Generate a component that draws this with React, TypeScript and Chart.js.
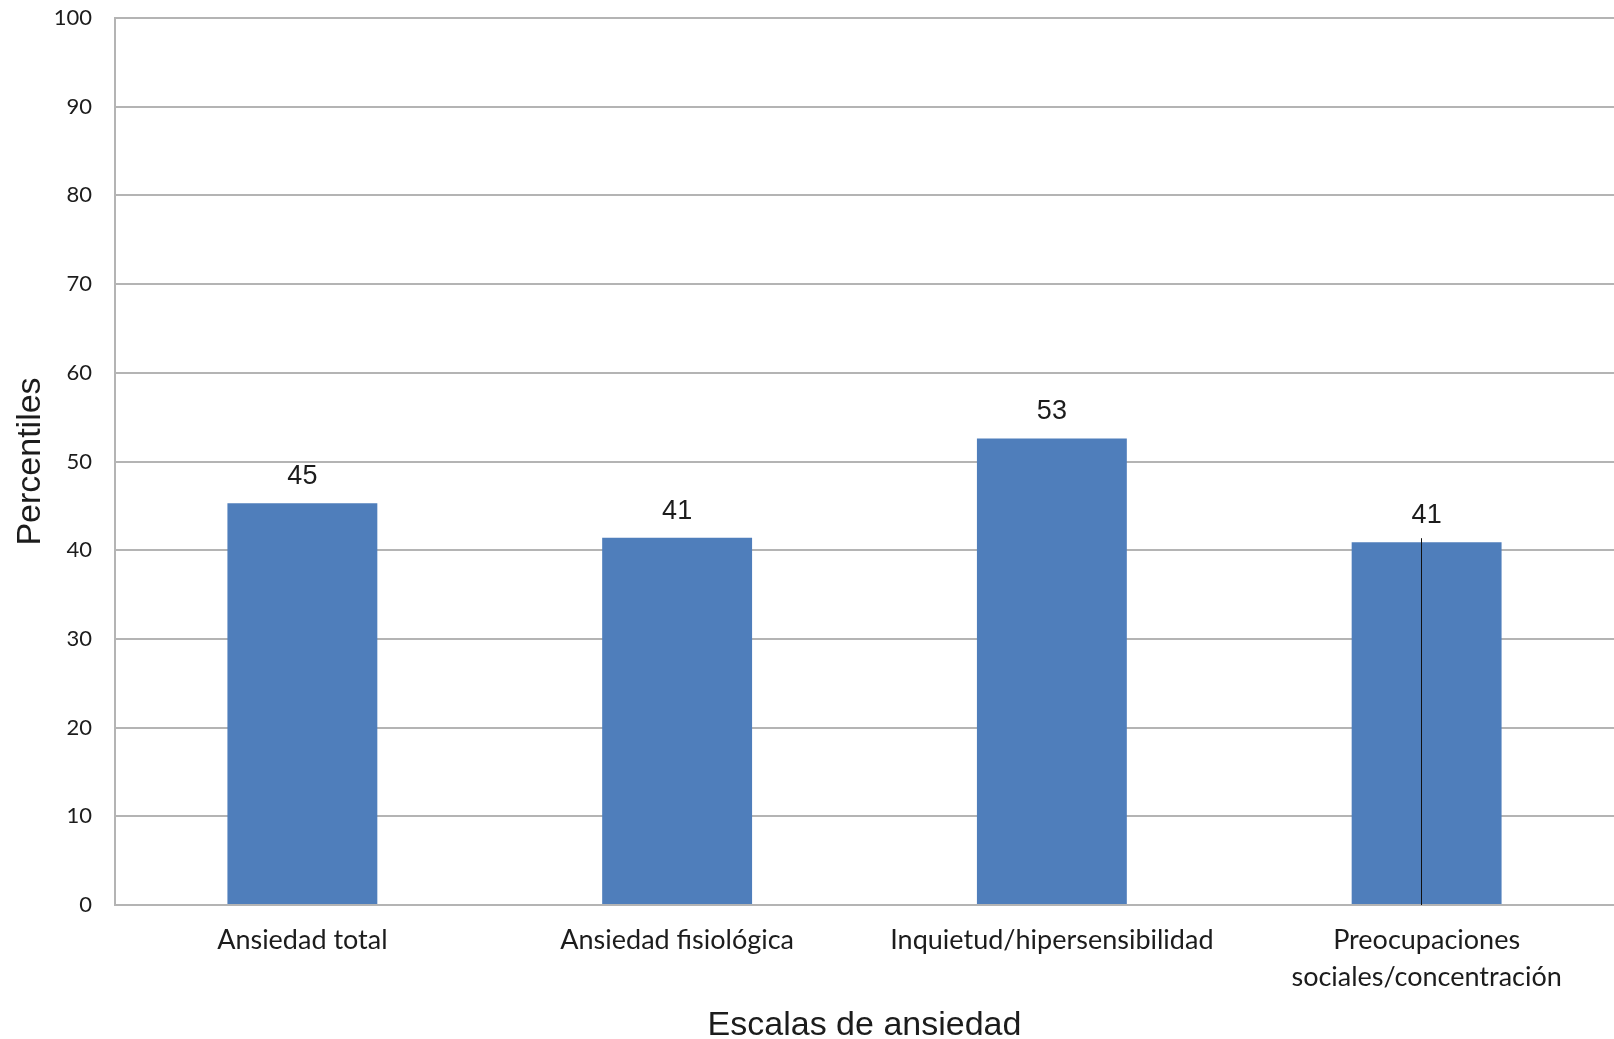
import React, { useEffect, useRef } from "react";
import { Chart, registerables } from "chart.js";

Chart.register(...registerables);

const categories: (string | string[])[] = [
  "Ansiedad total",
  "Ansiedad fisiológica",
  "Inquietud/hipersensibilidad",
  ["Preocupaciones", "sociales/concentración"],
];
const values = [45.3, 41.4, 52.6, 40.9];
const valueLabels = ["45", "41", "53", "41"];
const yTicks = [0, 10, 20, 30, 40, 50, 60, 70, 80, 90, 100];

const BAR_COLOR = "#4f7ebb";
const TEXT = "#1c1c1c";
const GRID = "#b4b4b4";

const valueLabelPlugin = {
  id: "valueLabels",
  afterDatasetsDraw(chart: any) {
    const ctx = chart.ctx;
    const meta = chart.getDatasetMeta(0);
    ctx.save();
    ctx.font = "27px 'Liberation Sans', Arial, sans-serif";
    ctx.fillStyle = TEXT;
    ctx.textAlign = "center";
    ctx.textBaseline = "alphabetic";
    meta.data.forEach((bar: any, i: number) => {
      ctx.fillText(valueLabels[i], bar.x, bar.y - 19);
    });
    // thin dark line seen inside the last bar
    const last = meta.data[meta.data.length - 1];
    if (last) {
      const x = Math.round(last.x - 6) + 0.5;
      ctx.strokeStyle = "#111";
      ctx.lineWidth = 1;
      ctx.beginPath();
      ctx.moveTo(x, last.y - 4);
      ctx.lineTo(x, chart.scales.y.getPixelForValue(0));
      ctx.stroke();
    }
    ctx.restore();
  },
};

export default function App() {
  const ref = useRef<HTMLCanvasElement>(null);
  useEffect(() => {
    document.body.style.margin = "0";
    const canvas = ref.current!;
    const chart = new Chart(canvas, {
      type: "bar",
      data: {
        labels: categories,
        datasets: [
          {
            data: values,
            backgroundColor: BAR_COLOR,
            borderWidth: 0,
            barPercentage: 0.4,
            categoryPercentage: 1,
          },
        ],
      },
      options: {
        animation: false,
        responsive: false,
        maintainAspectRatio: false,
        layout: { padding: { top: 18, right: 0, left: 0, bottom: 0 } },
        plugins: {
          legend: { display: false },
          tooltip: { enabled: false },
        },
        scales: {
          x: {
            grid: { display: false, drawTicks: false },
            border: { display: true, color: GRID, width: 2 },
            ticks: {
              color: TEXT,
              padding: 17,
              maxRotation: 0,
              autoSkip: false,
              font: { family: "Lato, 'Open Sans', sans-serif", size: 27, lineHeight: 1.37 },
            },
            title: {
              display: true,
              text: "Escalas de ansiedad",
              color: TEXT,
              font: { family: "'Liberation Sans', Arial, sans-serif", size: 34, lineHeight: 0.8 },
              padding: { top: 0, bottom: 0 },
            },
            afterFit: (s: any) => {
              s.height = 134;
              s.paddingLeft = 0;
              s.paddingRight = 0;
            },
          },
          y: {
            min: 0,
            max: 100,
            afterBuildTicks: (s: any) => {
              s.ticks = yTicks.map((v) => ({ value: v }));
            },
            grid: { color: GRID, lineWidth: 2, drawTicks: false },
            border: { display: true, color: GRID, width: 2 },
            ticks: {
              color: TEXT,
              padding: 23,
              font: { family: "Lato, 'Open Sans', sans-serif", size: 22 },
            },
            title: {
              display: true,
              text: "Percentiles",
              color: TEXT,
              font: { family: "'Liberation Sans', Arial, sans-serif", size: 34 },
              padding: { top: 10, bottom: 0 },
            },
            afterFit: (s: any) => {
              s.width = 115;
              s.paddingTop = 0;
              s.paddingBottom = 0;
            },
          },
        },
      },
      plugins: [valueLabelPlugin],
    });
    return () => chart.destroy();
  }, []);
  return (
    <div style={{ position: "fixed", left: 0, top: 0, width: 1614, height: 1039, background: "#fff" }}>
      <canvas ref={ref} width={1614} height={1039} style={{ width: 1614, height: 1039, display: "block" }} />
    </div>
  );
}
